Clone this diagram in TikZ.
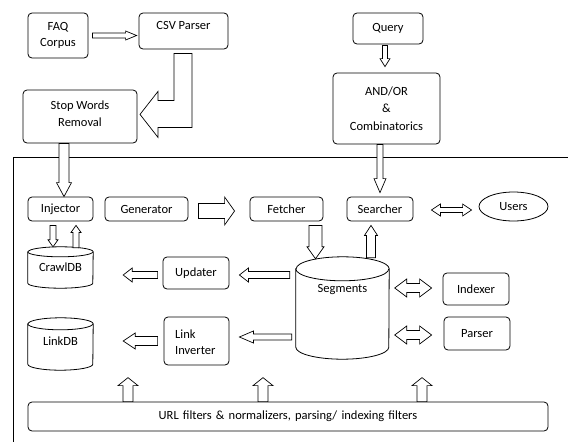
\documentclass[tikz,border=0pt]{standalone}
\usepackage{fontspec}
\setmainfont{Carlito}
\usetikzlibrary{calc,shapes.geometric}
\tikzset{
  box/.style={draw, rounded corners=4pt, line width=0.8pt, inner sep=0pt, align=center},
  holder/.style={inner sep=0pt},
  txt/.style={inner sep=0pt, align=center},
  arr/.style={draw, line width=0.7pt, fill=white, line join=miter},
  cyl/.style={draw, line width=0.8pt, fill=white},
  frame/.style={line width=0.8pt}
}
\newcommand\barr[5]{%
  \coordinate (bt) at (#2);
  \coordinate (bc) at ($(#2)!#5!(#1)$);
  \draw[arr] ($(#1)!#3!90:(bt)$) -- ($(bc)!#3!90:(bt)$) -- ($(bc)!#4!90:(bt)$) -- (bt) -- ($(bc)!#4!-90:(bt)$) -- ($(bc)!#3!-90:(bt)$) -- ($(#1)!#3!-90:(bt)$) -- cycle;}
\newcommand\darr[5]{%
  \coordinate (ca) at ($(#1)!#5!(#2)$);
  \coordinate (cb) at ($(#2)!#5!(#1)$);
  \draw[arr] (#1) -- ($(ca)!#4!90:(#2)$) -- ($(ca)!#3!90:(#2)$) -- ($(cb)!#3!-90:(#1)$) -- ($(cb)!#4!-90:(#1)$) -- (#2) -- ($(cb)!#4!90:(#1)$) -- ($(cb)!#3!90:(#1)$) -- ($(ca)!#3!-90:(#2)$) -- ($(ca)!#4!-90:(#2)$) -- cycle;}
% cylinder drawn around a holder node: #1 name, #2 half width (pt), #3 ry (pt)
\newcommand\cylfor[3]{%
  \draw[cyl] ([yshift=-#3]#1.north west) -- ([yshift=#3]#1.south west)
    arc[start angle=180, end angle=360, x radius=#2, y radius=#3]
    -- ([yshift=-#3]#1.north east)
    arc[start angle=0, end angle=180, x radius=#2, y radius=#3] -- cycle;
  \draw[cyl] ([yshift=-#3]#1.north west) arc[start angle=180, end angle=360, x radius=#2, y radius=#3];}
\begin{document}
\begin{tikzpicture}[x=1pt, y=-1pt, font=\fontsize{12.5}{16}\selectfont, text=black]
\useasboundingbox (0,0) rectangle (568,442);
% frame
\draw[frame] (568,157) -- (13,157) -- (13,442);
% top nodes
\node[box, minimum width=60, minimum height=45] (faq) at (58,35.5) {FAQ\\Corpus};
\node[box, minimum width=89, minimum height=36] (csv) at (183.5,31) {};
\node[txt] (csvt) at (183.5,25) {CSV Parser};
\node[box, minimum width=114, minimum height=53] (stop) at (80,116.5) {};
\node[txt, font=\fontsize{12.5}{17}\selectfont] (stopt) at (80,113.5) {Stop Words\\Removal};
\node[box, minimum width=70, minimum height=31] (query) at (388,28.5) {Query};
\node[box, minimum width=107, minimum height=71, font=\fontsize{12.5}{17.5}\selectfont] (andor) at (386.5,108.5) {AND/OR\\\&\\Combinatorics};
% inner nodes
\node[box, minimum width=65, minimum height=24] (inj) at (60.5,209) {Injector};
\node[box, minimum width=83, minimum height=24] (gen) at (146.5,209) {Generator};
\node[box, minimum width=73, minimum height=24] (fet) at (286.5,209) {Fetcher};
\node[box, minimum width=66, minimum height=24] (sea) at (380,209) {Searcher};
\node[draw, ellipse, line width=0.8pt, inner sep=0pt, minimum width=69, minimum height=29] (users) at (513.5,206.5) {Users};
\node[holder, minimum width=65, minimum height=41] (crawl) at (60.5,267.5) {};
\cylfor{crawl}{32.5pt}{5pt}
\node[txt] (crawlt) at (60.5,267) {CrawlDB};
\node[box, minimum width=66, minimum height=32] (upd) at (196,273) {Updater};
\node[holder, minimum width=93, minimum height=102] (seg) at (342.5,308) {};
\cylfor{seg}{46.5pt}{12pt}
\node[txt] (segt) at (342.5,290) {Segments};
\node[box, minimum width=66, minimum height=32] (idx) at (476,289) {Indexer};
\node[box, minimum width=66, minimum height=33] (par) at (477,333.5) {Parser};
\node[holder, minimum width=65, minimum height=52] (link) at (60.5,344) {};
\cylfor{link}{32.5pt}{6pt}
\node[txt] (linkt) at (60.5,341) {LinkDB};
\node[box, minimum width=65, minimum height=48] (linv) at (196.5,341) {};
\node[txt, align=left, anchor=west, font=\fontsize{12.5}{16.5}\selectfont] (linvt) at (175,342) {Link\\Inverter};
\node[box, minimum width=520, minimum height=29] (url) at (288,416.5) {\spaceskip=4.2pt plus 1pt\relax URL filters \& normalizers, parsing/ indexing filters};
% arrows
\coordinate (s1) at ($(faq.east)+(4,0)$);
\coordinate (t1) at ($(csv.west|-faq.east)+(-2,0)$);
\barr{s1}{t1}{2.5pt}{4.5pt}{11pt}
\coordinate (ls) at (csv.south);
\draw[arr] ($(ls)+(-9.5,4)$) -- ($(ls)+(-9.5,51)$) -- ($(ls)+(-25.5,51)$) -- ($(ls)+(-25.5,42)$)
  -- ($(ls)+(-43.5,65)$) -- ($(ls)+(-25.5,88)$) -- ($(ls)+(-25.5,78)$) -- ($(ls)+(8.5,78)$)
  -- ($(ls)+(8.5,4)$) -- cycle;
\coordinate (s3) at ($(query.south)+(-3,1)$);
\coordinate (t3) at ($(andor.north)+(-1.5,-6)$);
\barr{s3}{t3}{2.5pt}{5pt}{8pt}
\coordinate (s4) at (sea.north|-andor.south);
\coordinate (t4) at ($(sea.north)+(0,-4)$);
\barr{s4}{t4}{3pt}{6pt}{14pt}
\coordinate (s5) at ($(stop.south)+(-16,0)$);
\coordinate (t5) at ($(inj.north)+(3.5,0)$);
\barr{s5}{t5}{5pt}{7.5pt}{14pt}
\coordinate (s6) at ($(inj.south)+(-7.5,4)$);
\coordinate (t6) at ($(crawl.north)+(-7.5,0)$);
\barr{s6}{t6}{3pt}{5pt}{7pt}
\coordinate (s7) at ($(crawl.north)+(15.5,1)$);
\coordinate (t7) at ($(inj.south)+(15.5,4)$);
\barr{s7}{t7}{3pt}{5pt}{7pt}
\coordinate (s8) at ($(gen.east)+(10,2)$);
\coordinate (t8) at ($(fet.west)+(-15,2)$);
\barr{s8}{t8}{7.5pt}{14pt}{10pt}
\coordinate (s9) at ($(fet.south)+(29,4)$);
\coordinate (t9) at ($(seg.north)+(-27,2)$);
\barr{s9}{t9}{6.5pt}{8.5pt}{12pt}
\coordinate (s10) at ($(seg.north)+(28.5,1)$);
\coordinate (t10) at ($(sea.south)+(-9,4)$);
\barr{s10}{t10}{4.5pt}{6.5pt}{10pt}
\coordinate (s11) at ($(sea.east)+(18,1)$);
\coordinate (t11) at ($(users.west)+(-7,3.5)$);
\darr{s11}{t11}{2.5pt}{6pt}{9pt}
\coordinate (s12) at ($(upd.west)+(-5,2)$);
\coordinate (t12) at ($(crawl.east)+(30,7.5)$);
\barr{s12}{t12}{3.5pt}{7pt}{9pt}
\coordinate (s13) at ($(seg.west)+(-6,-33)$);
\coordinate (t13) at ($(upd.east)+(10,2)$);
\barr{s13}{t13}{3.5pt}{7pt}{9pt}
\coordinate (s14) at ($(seg.east)+(5.5,-20)$);
\coordinate (t14) at ($(idx.west)+(-11,-1)$);
\darr{s14}{t14}{4.5pt}{9pt}{12pt}
\coordinate (s15) at ($(seg.east)+(5.5,27)$);
\coordinate (t15) at ($(par.west)+(-12,1.5)$);
\darr{s15}{t15}{4.5pt}{9pt}{12pt}
\coordinate (s16) at ($(linv.west)+(-6,0)$);
\coordinate (t16) at ($(link.east)+(30,-3)$);
\barr{s16}{t16}{4.5pt}{8pt}{12pt}
\coordinate (s17) at ($(seg.west)+(-4,29)$);
\coordinate (t17) at ($(linv.east)+(10,-4)$);
\barr{s17}{t17}{3pt}{6pt}{14pt}
\coordinate (s18) at ($(url.north)+(-160,0)$);
\coordinate (t18) at ($(url.north)+(-160,-24)$);
\barr{s18}{t18}{5pt}{10pt}{8pt}
\coordinate (s19) at ($(url.north)+(-25,0)$);
\coordinate (t19) at ($(url.north)+(-25,-24)$);
\barr{s19}{t19}{5pt}{10pt}{8pt}
\coordinate (s20) at ($(url.north)+(134,0)$);
\coordinate (t20) at ($(url.north)+(134,-24)$);
\barr{s20}{t20}{5pt}{10pt}{8pt}
\end{tikzpicture}
\end{document}
